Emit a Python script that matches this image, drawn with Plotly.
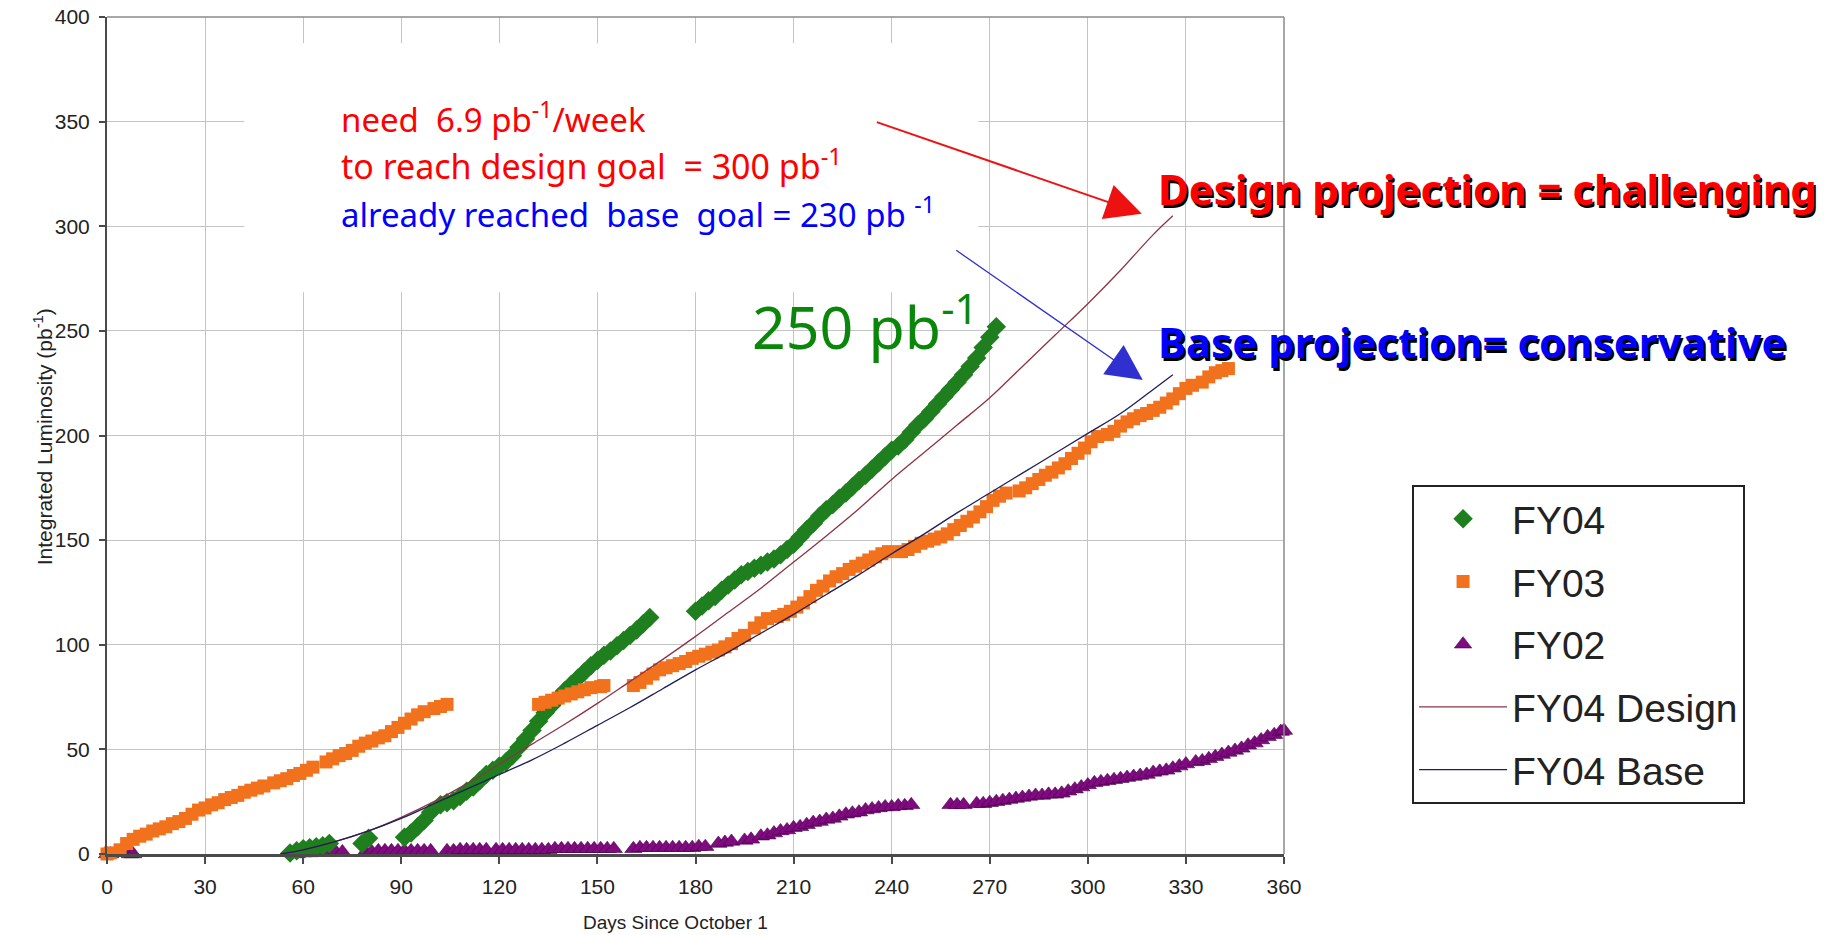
import plotly.graph_objects as go

# ---- FY04 integrated luminosity (day since Oct 1, pb^-1) ----
fy04_day = [56, 58, 60, 62, 64, 66, 68,
            78, 80,
            91, 93, 95, 97, 99,
            102, 104, 106, 108, 110, 112, 114, 116, 118, 120, 122, 124, 126, 128, 130,
            132, 134, 136, 138, 140, 142, 144, 146, 148, 150, 152, 154, 156, 158, 160,
            162, 164, 166,
            180, 182, 184, 186, 188, 190, 192, 194, 196, 198, 200, 202, 204, 206, 208,
            210, 212, 214, 216, 218, 220, 222, 224, 226, 228, 230, 232, 234, 236, 238,
            240, 242, 244, 246, 248, 250, 252, 254, 256, 258, 260, 262, 264, 266, 268,
            270, 272]
fy04_lum = [0.5, 1.5, 2.5, 3, 3.5, 4, 5,
            5, 7.5,
            8, 10, 13, 16, 20,
            23.5, 24.5, 25.5, 27.5, 30, 32, 35, 38, 40, 42, 44, 47, 51, 55, 59,
            63.5, 67.5, 71, 74.5, 78, 81, 84, 87, 90, 92.5, 95, 97, 99.5, 102, 104.5,
            107, 110, 113,
            116, 118.5, 121, 123, 126, 128.5, 131, 133.5, 135, 136.5, 138, 139.5, 141, 143, 145.5,
            148, 151.5, 155, 158, 161.5, 164.5, 167, 170, 172.5, 175.5, 178.5, 181, 184, 187, 190,
            193, 195, 198, 201.5, 205, 208, 211.5, 215, 218.5, 222, 225.5, 229, 233, 237, 242,
            247, 252]

# ---- FY03 ----
fy03_day = [0, 1, 4, 6, 8, 10, 12, 14, 16, 18, 20, 22, 24, 26, 28, 30, 32, 34, 36, 38,
            40, 42, 44, 46, 48, 51, 53, 55, 57, 59, 61, 63, 67, 69, 71, 73, 75, 77, 79,
            81, 83, 85, 87, 89, 91, 93, 95, 97, 100, 102, 104,
            132, 134, 136, 138, 140, 142, 144, 146, 148, 151, 152,
            161, 163, 165, 167, 169, 171, 173, 175, 177, 179, 181, 183, 185, 187, 189,
            191, 193, 195, 198, 200, 202, 205, 207, 209, 211, 213, 215, 217, 219, 221,
            223, 225, 227, 229, 231, 233, 235, 237, 239, 243, 245, 247, 249, 251, 253,
            255, 257, 259, 261, 263, 265, 267, 269, 271, 273, 275, 279, 281, 283, 285,
            287, 289, 291, 293, 295, 297, 299, 301, 303, 306, 308, 310, 312, 314, 316,
            318, 320, 322, 324, 326, 328, 330, 332, 335, 337, 339, 341, 343]
fy03_lum = [0, 0.5, 2, 5, 7, 8.5, 9.5, 11, 12, 13, 14.5, 15.5, 17, 19, 21, 22, 23.5, 24.5, 26, 27,
            28, 29.5, 30.5, 31.5, 32.5, 34, 35, 36, 37.5, 38.5, 40, 41.5, 44, 45.5, 47, 48, 49.5, 51.5, 53,
            54, 55.5, 56.5, 58.5, 60.5, 62.5, 64.5, 66.5, 68, 69.5, 70.5, 71.5,
            71.5, 72.5, 73.5, 74.5, 75.5, 76.5, 77.5, 78.5, 79.5, 80, 80.5,
            80.5, 82, 84, 86, 88, 89, 90, 91, 92, 93.5, 94.5, 95.5, 96.5, 97.5, 99,
            100.5, 103, 104.5, 108, 110.5, 112.5, 113.5, 114.5, 116, 118, 120, 123, 126, 128, 130.5,
            132.5, 134, 136, 137.5, 139, 140.5, 142, 143.5, 144.5, 144.5, 145.5, 147, 148.5, 149.5, 150.5,
            151.5, 153, 155, 157, 159, 161, 163.5, 166, 169, 171, 172.5, 173.5, 175, 177, 179,
            181, 182.5, 184.5, 186.5, 189, 191.5, 194, 197, 199.5, 200.5, 202, 204.5, 206.5, 208, 209.5,
            210.5, 212, 213.5, 215.5, 217.5, 220, 222.5, 224, 225.5, 228, 230, 231, 232]

# ---- FY02 ----
fy02_day = [0, 1, 7, 8,
            58, 60, 62, 64, 66, 68, 70, 72,
            79, 81, 83, 85, 87, 89, 91, 93, 95, 97, 99,
            104, 106, 108, 110, 112, 114, 116,
            119, 121, 123, 125, 127, 129, 131, 133, 135, 137, 139, 141, 143, 145, 147,
            149, 151, 153, 155,
            161, 163, 165, 167, 169, 171, 173, 175, 177, 179, 181, 183,
            187, 189, 191, 195, 197,
            200, 202, 204, 206, 208, 210, 212, 214, 216, 218, 220, 222, 224, 226, 228,
            230, 232, 234, 236, 238, 240, 242, 244, 246,
            258, 260, 262, 266, 268, 270, 272, 274, 276, 278, 280, 282, 284, 286, 288,
            290, 292, 294, 296, 298, 300, 302, 304, 306, 308, 310, 312, 314, 316, 318,
            320, 322, 324, 326, 328, 330,
            333, 335, 337, 339, 341, 343, 345, 347, 349, 351, 353, 355, 357, 359, 360]
fy02_lum = [0, 0, 0, 0,
            0, 0.5, 0.5, 1, 1, 1, 1, 1,
            1, 1, 1.5, 1.5, 1.5, 1.5, 1.5, 1.5, 1.5, 1.5, 1.5,
            1.5, 1.5, 2, 2, 2, 2, 2,
            2, 2, 2, 2, 2, 2, 2, 2, 2, 2.5, 2.5, 2.5, 2.5, 2.5, 2.5,
            2.5, 2.5, 2.5, 2.5,
            2.5, 3, 3, 3, 3, 3, 3, 3, 3, 3, 3.5, 3.5,
            5, 5.5, 6, 6.5, 7,
            8.5, 9, 10, 11, 11.5, 12.5, 13, 14, 15, 15.5, 16.5, 17, 18, 19, 19.5,
            20, 21, 21.5, 22, 22.5, 22.5, 23, 23, 23.5,
            23.5, 23.5, 23.5, 24, 24, 24.5, 25, 25.5, 26, 26.5, 27, 27.5, 28, 28, 28.5,
            28.5, 29, 30, 31, 32, 33, 34, 34.5, 35, 35.5, 36, 36.5, 37, 37.5, 38,
            39, 39.5, 40, 41, 42, 43,
            44, 44.5, 45.5, 46.5, 47.5, 48.5, 49.5, 50.5, 52, 53, 54.5, 56, 57, 58.5, 59]

# ---- FY04 projections ----
design_day = [53, 60, 70, 80, 90, 100, 110, 120, 130, 140, 150, 160, 170, 180, 190,
              200, 210, 220, 230, 240, 250, 260, 270, 280, 290, 300, 310, 320, 326]
design_lum = [0, 2, 6, 11, 17.5, 25, 33.5, 43, 52.5, 62, 72, 82.5, 93, 104, 115.5,
              127, 139.5, 152, 165, 179, 192, 205, 218, 233, 248, 263, 279, 296, 305]
base_day = [53, 60, 70, 80, 90, 100, 110, 120, 130, 140, 150, 160, 170, 180, 190,
            200, 210, 220, 230, 240, 250, 260, 270, 280, 290, 300, 310, 320, 326]
base_lum = [0, 2, 6, 11, 17, 24, 31, 38, 45, 53, 61.5, 70, 79, 88, 96.5,
            105.5, 114.5, 124, 133.5, 143.5, 153, 163, 172.5, 182, 191.5, 201, 210.5, 222, 229]

x_ticks = list(range(0, 361, 30))
y_ticks = list(range(0, 401, 50))

AXIS_FONT = "Liberation Sans, Arial, sans-serif"
HAND_FONT = "Comic Sans MS, Noto Sans, sans-serif"

fig = go.Figure()

fig.add_trace(go.Scatter(
    x=fy02_day, y=fy02_lum, mode="markers", name="FY02",
    legendgroup="fy02", legendrank=3, cliponaxis=False,
    marker=dict(symbol="triangle-up", size=15, color="#800a80",
                line=dict(width=0.6, color="#4a004a")),
))
fig.add_trace(go.Scatter(
    x=fy04_day, y=fy04_lum, mode="markers", name="FY04",
    legendgroup="fy04", legendrank=1, cliponaxis=False,
    marker=dict(symbol="diamond", size=15, color="#1f7f1f", line=dict(width=0)),
))
fig.add_trace(go.Scatter(
    x=fy03_day, y=fy03_lum, mode="markers", name="FY03",
    legendgroup="fy03", legendrank=2, cliponaxis=False,
    marker=dict(symbol="square", size=13, color="#f2711c", line=dict(width=0)),
))
fig.add_trace(go.Scatter(
    x=design_day, y=design_lum, mode="lines", name="FY04 Design",
    legendgroup="design", legendrank=4, line_shape="spline",
    line=dict(color="#8c3444", width=1.3),
))
fig.add_trace(go.Scatter(
    x=base_day, y=base_lum, mode="lines", name="FY04 Base",
    legendgroup="base", legendrank=5, line_shape="spline",
    line=dict(color="#1e1e5a", width=1.3),
))

# plain backing behind the note text block (hides the grid there)
fig.add_shape(type="rect", xref="x", yref="y", x0=42, x1=266.5, y0=268.5, y1=387.5,
              fillcolor="white", line=dict(width=0), layer="between")
# top and right frame of the plot area
fig.add_shape(type="line", xref="paper", yref="paper", x0=0, x1=1, y0=1, y1=1,
              line=dict(color="#8a8a8a", width=1.5))
fig.add_shape(type="line", xref="paper", yref="paper", x0=1, x1=1, y0=0, y1=1,
              line=dict(color="#8a8a8a", width=1.5))

annotations = [
    # axis titles
    dict(text="Integrated Luminosity (pb<sup>-1</sup>)", xref="paper", yref="paper",
         x=-0.067, y=0.498, textangle=-90, showarrow=False,
         font=dict(family=AXIS_FONT, size=21, color="#222")),
    dict(text="Days Since October 1", xref="paper", yref="paper",
         x=0.4834, y=-0.097, showarrow=False,
         font=dict(family=AXIS_FONT, size=19, color="#222")),
    # notes
    dict(text="need\u00a0\u00a06.9 pb<sup>-1</sup>/week", xref="paper", yref="paper",
         x=0.197, y=0.880, xanchor="left", yanchor="middle", showarrow=False,
         font=dict(family=HAND_FONT, size=33, color="#ff0000")),
    dict(text="to reach design goal\u00a0\u00a0= 300 pb<sup>-1</sup>", xref="paper", yref="paper",
         x=0.197, y=0.824, xanchor="left", yanchor="middle", showarrow=False,
         font=dict(family=HAND_FONT, size=34, color="#ff0000")),
    dict(text="already reached\u00a0\u00a0base\u00a0\u00a0goal = 230 pb <sup>-1</sup>", xref="paper", yref="paper",
         x=0.197, y=0.766, xanchor="left", yanchor="middle", showarrow=False,
         font=dict(family=HAND_FONT, size=33, color="#0000ff")),
    dict(text="250 pb<sup>-1</sup>", xref="paper", yref="paper",
         x=0.546, y=0.634, xanchor="left", yanchor="middle", showarrow=False,
         font=dict(family=HAND_FONT, size=59, color="#0a870a")),
    dict(text="<b>Design projection = challenging</b>", xref="paper", yref="paper",
         x=0.891, y=0.7955, xanchor="left", yanchor="middle", showarrow=False,
         font=dict(family=HAND_FONT, size=42, color="#ff0000", shadow="2px 3px 0px #000")),
    dict(text="<b>Base projection= conservative</b>", xref="paper", yref="paper",
         x=0.891, y=0.6127, xanchor="left", yanchor="middle", showarrow=False,
         font=dict(family=HAND_FONT, size=42, color="#0000ff", shadow="2px 3px 0px #000")),
    # pointer arrows to the projection ends
    dict(text="", xref="x", yref="y", axref="x", ayref="y",
         x=316.5, y=306, ax=235, ay=350, showarrow=True,
         arrowhead=2, arrowsize=3.6, arrowwidth=2, arrowcolor="#ee1111"),
    dict(text="", xref="x", yref="y", axref="x", ayref="y",
         x=316.8, y=226.5, ax=259.3, ay=289, showarrow=True,
         arrowhead=2, arrowsize=5.5, arrowwidth=1.3, arrowcolor="#3030d0"),
]

fig.update_layout(
    width=1831, height=935,
    margin=dict(l=107, r=547, t=17, b=81, autoexpand=False),
    paper_bgcolor="white", plot_bgcolor="white",
    showlegend=True,
    legend=dict(
        x=1.1088, y=0.4409, xanchor="left", yanchor="top",
        bgcolor="white", bordercolor="#222", borderwidth=2,
        font=dict(family=AXIS_FONT, size=39, color="#222"),
        traceorder="grouped", tracegroupgap=9, itemwidth=88,
    ),
    annotations=annotations,
    xaxis=dict(
        range=[0, 360], tickvals=x_ticks, ticktext=[str(v) for v in x_ticks],
        showgrid=True, gridcolor="#c4c4c4", gridwidth=1,
        showline=True, linecolor="#4a4a4a", linewidth=2.5,
        ticks="outside", ticklen=7, tickwidth=1.5, tickcolor="#4a4a4a",
        ticklabelstandoff=5,
        tickfont=dict(family=AXIS_FONT, size=21, color="#222"),
        zeroline=False,
    ),
    yaxis=dict(
        range=[0, 400], tickvals=y_ticks, ticktext=[str(v) for v in y_ticks],
        showgrid=True, gridcolor="#c4c4c4", gridwidth=1,
        showline=True, linecolor="#4a4a4a", linewidth=2,
        ticks="outside", ticklen=6, tickwidth=1.5, tickcolor="#4a4a4a",
        ticklabelstandoff=5,
        tickfont=dict(family=AXIS_FONT, size=21, color="#222"),
        zeroline=False,
    ),
)

fig.write_html("out.html")
